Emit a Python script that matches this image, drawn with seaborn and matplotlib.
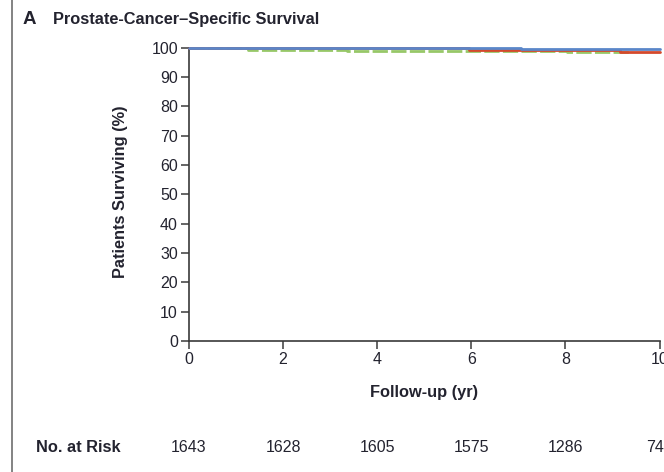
import matplotlib
matplotlib.use("Agg")
import matplotlib.pyplot as plt
import seaborn as sns
import pandas as pd
from matplotlib.lines import Line2D

# ---- data ----
groups = ["Group 1", "Group 2", "Group 3"]
times_blue = [0, 7.06, 10.0]
surv_blue = [100.0, 99.55, 99.55]
times_red = [0, 5.96, 9.17, 10.0]
surv_red = [100.0, 99.3, 98.45, 98.45]
times_green = [0, 1.25, 3.35, 8.04, 9.4]
surv_green = [100.0, 99.1, 98.85, 98.4, 98.4]
x_ticks = [0, 2, 4, 6, 8, 10]
y_ticks = [0, 10, 20, 30, 40, 50, 60, 70, 80, 90, 100]
at_risk = [1643, 1628, 1605, 1575, 1286, 740]

title_letter = "A"
title_text = "Prostate-Cancer\u2013Specific Survival"
y_label = "Patients Surviving (%)"
x_label = "Follow-up (yr)"
risk_label = "No. at Risk"

df = pd.concat([
    pd.DataFrame({"time": times_green, "surv": surv_green, "group": groups[2]}),
    pd.DataFrame({"time": times_red, "surv": surv_red, "group": groups[1]}),
    pd.DataFrame({"time": times_blue, "surv": surv_blue, "group": groups[0]}),
], ignore_index=True)

sns.set_theme(style="white")
plt.rcParams["font.family"] = ["Liberation Sans", "DejaVu Sans"]
TXT = "#23232f"

fig = plt.figure(figsize=(6.64, 4.72), dpi=100)
ax = fig.add_axes([189 / 664, 1 - 341 / 472, (659.5 - 189) / 664, (341 - 47.7) / 472])

palette = {groups[0]: "#5a86c9", groups[1]: "#d4492c", groups[2]: "#97c768"}
dashes = {groups[0]: "", groups[1]: "", groups[2]: (5.5, 1.2)}
sns.lineplot(data=df, x="time", y="surv", hue="group", style="group",
             palette=palette, dashes=dashes, drawstyle="steps-post",
             linewidth=2.0, legend=False, ax=ax, estimator=None, sort=False)
lines = ax.get_lines()
for z, ln in zip([2, 3, 4], lines):
    ln.set_clip_on(False)
    ln.set_zorder(z)

ax.set_xlim(0, 10)
ax.set_ylim(0, 100)
ax.set_xticks(x_ticks)
ax.set_yticks(y_ticks)
ax.set_xlabel("")
ax.set_ylabel("")
for s in ["top", "right"]:
    ax.spines[s].set_visible(False)
for s in ["left", "bottom"]:
    ax.spines[s].set_color("#3a3a3a")
    ax.spines[s].set_linewidth(1.2)
ax.tick_params(axis="both", direction="out", length=6, width=1.1, color="#3a3a3a",
               labelsize=11.5, labelcolor=TXT, pad=2, bottom=True, left=True)
ax.grid(False)

fig.text(23 / 664, 1 - 19.5 / 472, title_letter, fontsize=13.5, fontweight="bold",
         color=TXT, va="center", ha="left")
fig.text(53 / 664, 1 - 19.5 / 472, title_text, fontsize=11.8, fontweight="bold",
         color=TXT, va="center", ha="left")
fig.text(121 / 664, 1 - 192 / 472, y_label, rotation=90, fontsize=11.8, fontweight="bold",
         color=TXT, va="center", ha="center")
fig.text(424 / 664, 1 - 393 / 472, x_label, fontsize=11.8, fontweight="bold",
         color=TXT, va="center", ha="center")
fig.text(36 / 664, 1 - 448 / 472, risk_label, fontsize=11.8, fontweight="bold",
         color=TXT, va="center", ha="left")
for xt, n in zip(x_ticks, at_risk):
    ax.annotate(str(n), xy=(xt, 0), xycoords="data",
                xytext=(0, -(448 - 341)), textcoords="offset pixels",
                fontsize=11.5, color=TXT, ha="center", va="center",
                annotation_clip=False)

fig.add_artist(Line2D([12 / 664, 12 / 664], [0, 1], color="#7a7a7a", linewidth=1.3,
                      transform=fig.transFigure))

fig.savefig("out.png", dpi=100)
